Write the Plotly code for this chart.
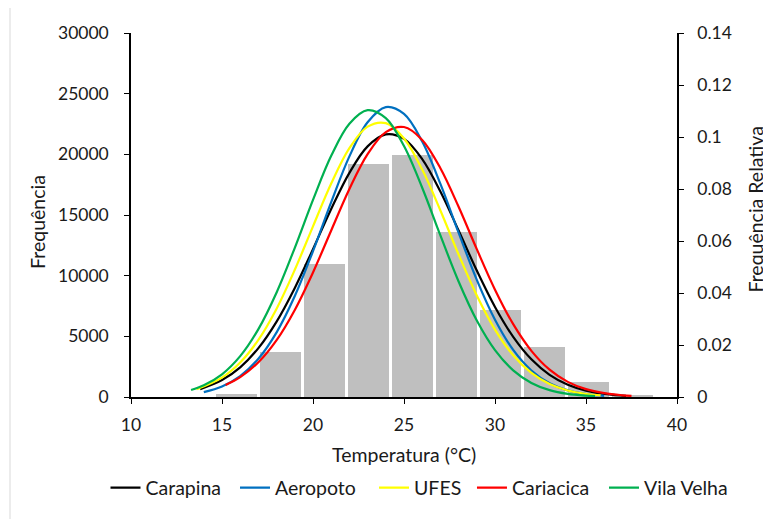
import plotly.graph_objects as go

# Histogram (left axis)
bin_centers = [15.79, 18.21, 20.63, 23.05, 25.47, 27.89, 30.31, 32.73, 35.15, 37.57]
frequencia = [280, 3750, 10950, 19200, 19950, 13580, 7130, 4130, 1220, 100]

# Axis ticks
x_ticks = [10, 15, 20, 25, 30, 35, 40]
y_ticks = [0, 5000, 10000, 15000, 20000, 25000, 30000]
y2_ticks = [0, 0.02, 0.04, 0.06, 0.08, 0.1, 0.12, 0.14]

# Relative-frequency curves (right axis)
carapina_x = [13.8, 15, 16, 17, 18, 19, 20, 21, 22, 23, 24, 25, 26, 27, 28, 29, 30, 31, 32, 33, 34, 35, 36, 37, 37.2]
carapina_y = [0.00304, 0.00651, 0.01142, 0.01878, 0.02899, 0.04194, 0.05687, 0.07231, 0.08622, 0.09639, 0.1010,
              0.09928, 0.09149, 0.07904, 0.06403, 0.04863, 0.03463, 0.02313, 0.01448, 0.00850, 0.00468, 0.00241,
              0.00117, 0.00053, 0.00045]

aeropoto_x = [14, 15, 16, 17, 18, 19, 20, 21, 22, 23, 24, 25, 26, 27, 28, 29, 30, 31, 32, 33, 34, 35, 36]
aeropoto_y = [0.00190, 0.00407, 0.00804, 0.01470, 0.02485, 0.03882, 0.05609, 0.07493, 0.09254, 0.10566, 0.1115,
              0.10886, 0.09823, 0.08194, 0.06320, 0.04506, 0.02972, 0.01810, 0.01021, 0.00532, 0.00256, 0.00114,
              0.00047]

ufes_x = [13.6, 15, 16, 17, 18, 19, 20, 21, 22, 23, 24, 25, 26, 27, 28, 29, 30, 31, 32, 33, 34, 35, 35.8]
ufes_y = [0.00296, 0.00747, 0.01327, 0.02199, 0.03397, 0.04894, 0.06564, 0.08210, 0.09571, 0.10399, 0.10532,
          0.09941, 0.08747, 0.07173, 0.05481, 0.03906, 0.02594, 0.01605, 0.00926, 0.00498, 0.00249, 0.00116,
          0.00060]

cariacica_x = [15.2, 16, 17, 18, 19, 20, 21, 22, 23, 24, 25, 26, 27, 28, 29, 30, 31, 32, 33, 34, 35, 36, 37, 37.5]
cariacica_y = [0.00463, 0.00762, 0.01336, 0.02188, 0.03350, 0.04791, 0.06406, 0.08002, 0.09341, 0.10188, 0.10383,
               0.09888, 0.08800, 0.07317, 0.05686, 0.04129, 0.02801, 0.01776, 0.01052, 0.00582, 0.00301, 0.00146,
               0.00066, 0.00043]

vilavelha_x = [13.3, 14, 15, 16, 17, 18, 19, 20, 21, 22, 23, 24, 25, 26, 27, 28, 29, 30, 31, 32, 33, 34, 35, 35.5]
vilavelha_y = [0.00271, 0.00451, 0.00874, 0.01571, 0.02611, 0.04021, 0.05739, 0.07581, 0.09276, 0.10512, 0.11033,
               0.10724, 0.09653, 0.08049, 0.06215, 0.04444, 0.02943, 0.01805, 0.01026, 0.00540, 0.00263, 0.00119,
               0.00050, 0.00031]

series = [
    ("Carapina", carapina_x, carapina_y, "#000000"),
    ("Aeropoto", aeropoto_x, aeropoto_y, "#0070C0"),
    ("UFES", ufes_x, ufes_y, "#FFFF00"),
    ("Cariacica", cariacica_x, cariacica_y, "#FF0000"),
    ("Vila Velha", vilavelha_x, vilavelha_y, "#00B050"),
]

FONT = "Lato"
TXT = "#1a1a1a"
fig = go.Figure()
fig.add_trace(go.Bar(x=bin_centers, y=frequencia, width=2.24, marker=dict(color="#BFBFBF", line=dict(width=0)),
                     showlegend=False, yaxis="y", hoverinfo="x+y"))

# one single-entry legend per series so the entries are spaced as in the original
legend_ids = ["legend", "legend2", "legend3", "legend4", "legend5"]
legend_x = [-0.0467, 0.1905, 0.4451, 0.6245, 0.8663]
for (name, xs, ys, col), lid in zip(series, legend_ids):
    fig.add_trace(go.Scatter(x=xs, y=ys, mode="lines", name=name, yaxis="y2", legend=lid,
                             line=dict(color=col, width=2.2, shape="spline")))

axis_common = dict(showgrid=False, zeroline=False, showline=True, linecolor="black", linewidth=1.5,
                   ticks="outside", ticklen=5, tickcolor="black", automargin=False,
                   tickfont=dict(size=17.5, color=TXT))

legend_layout = {}
for lid, lx in zip(legend_ids, legend_x):
    legend_layout[lid] = dict(orientation="h", x=lx, xanchor="left", y=-0.25, yanchor="middle",
                              font=dict(size=19.5, color=TXT), itemwidth=30, bgcolor="rgba(0,0,0,0)")

# page body adds an 8px offset, so the figure is 8px smaller and margins shifted
fig.update_layout(
    width=763, height=511,
    margin=dict(l=123, r=94, t=25, b=122),
    paper_bgcolor="white", plot_bgcolor="white",
    font=dict(family=FONT, size=17.5, color=TXT),
    xaxis=dict(range=[10, 40], tickvals=x_ticks, ticklabelstandoff=6, **axis_common),
    yaxis=dict(range=[0, 30000], tickvals=y_ticks, ticktext=[str(v) for v in y_ticks],
               ticklabelstandoff=12, **axis_common),
    yaxis2=dict(range=[0, 0.14], tickvals=y2_ticks, ticktext=[f"{v:g}" for v in y2_ticks], overlaying="y",
                side="right", ticklabelstandoff=10, **axis_common),
    bargap=0,
    annotations=[
        dict(text="Temperatura (°C)", xref="paper", yref="paper", x=0.5, y=-0.159, xanchor="center",
             yanchor="middle", showarrow=False, font=dict(size=19.5, color=TXT)),
        dict(text="Frequência", xref="paper", yref="paper", x=-0.1703, y=0.481, xanchor="center",
             yanchor="middle", textangle=-90, showarrow=False, font=dict(size=19.5, color=TXT)),
        dict(text="Frequência Relativa", xref="paper", yref="paper", x=1.1447, y=0.515, xanchor="center",
             yanchor="middle", textangle=-90, showarrow=False, font=dict(size=19.5, color=TXT)),
    ],
    shapes=[dict(type="line", xref="paper", yref="paper", x0=-0.2216, x1=-0.2216, y0=-0.34, y1=1.1,
                 line=dict(color="#D9D9D9", width=1))],
    **legend_layout,
)

fig.write_html("out.html")
